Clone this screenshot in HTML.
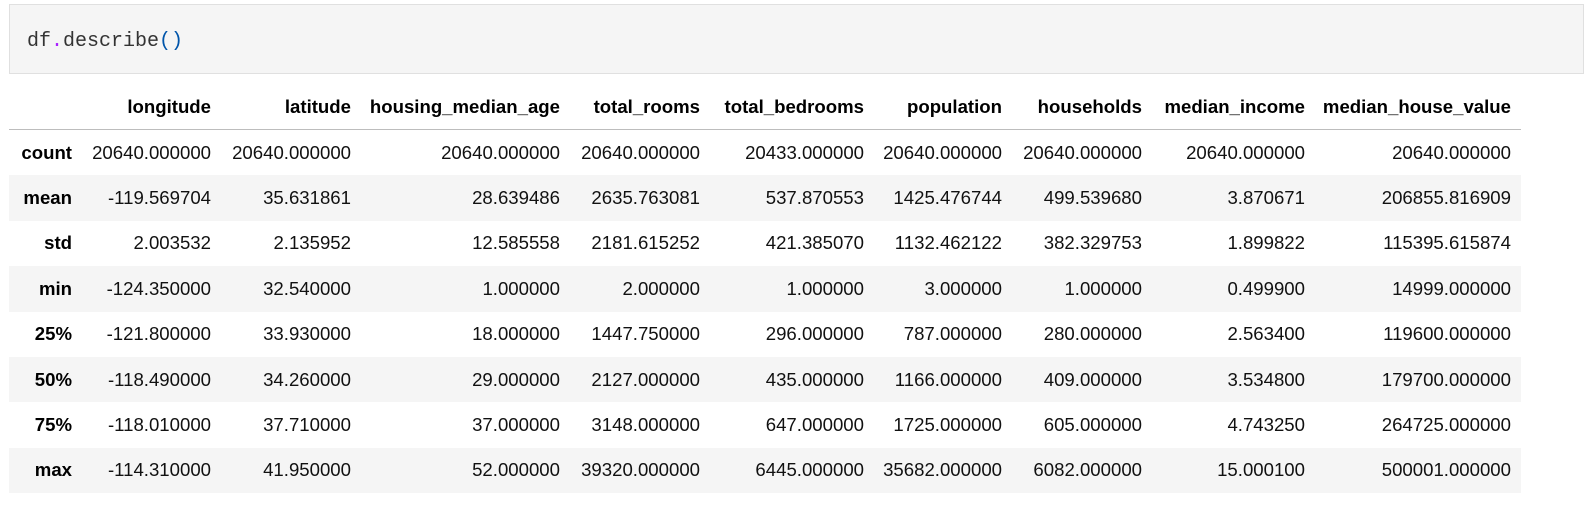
<!DOCTYPE html>
<html><head><meta charset="utf-8"><style>
body{margin:0;background:#fff;width:1585px;height:518px;overflow:hidden;font-family:"Liberation Sans",sans-serif;}
.code{position:absolute;left:9px;top:4px;background:#f5f5f5;border:1px solid #e0e0e0;box-sizing:border-box;width:1575px;height:70px;}
.code span.t{position:absolute;left:17px;top:25px;font-family:"Liberation Mono",monospace;font-size:20px;color:#333;}
table{position:absolute;left:9px;top:85px;width:1512px;border-collapse:collapse;table-layout:fixed;font-size:18.6px;color:#111;}
td,th{text-align:right;padding:0 10px 0 0;height:45.4px;white-space:nowrap;}
thead th{height:44px;border-bottom:1px solid #bdbdbd;color:#000;}
tbody tr:nth-child(even){background:#f5f5f5;}
tbody th{color:#000;}
</style></head><body>
<div class="code"><span class="t">df<span style="color:#aa22ff">.</span>describe<span style="color:#0055aa">()</span></span></div>
<table>
<colgroup><col style="width:73px"><col style="width:139px"><col style="width:140px"><col style="width:209px"><col style="width:140px"><col style="width:164px"><col style="width:138px"><col style="width:140px"><col style="width:163px"><col style="width:206px"></colgroup>
<thead><tr><th></th><th>longitude</th><th>latitude</th><th>housing_median_age</th><th>total_rooms</th><th>total_bedrooms</th><th>population</th><th>households</th><th>median_income</th><th>median_house_value</th></tr></thead>
<tbody>
<tr><th>count</th><td>20640.000000</td><td>20640.000000</td><td>20640.000000</td><td>20640.000000</td><td>20433.000000</td><td>20640.000000</td><td>20640.000000</td><td>20640.000000</td><td>20640.000000</td></tr>
<tr><th>mean</th><td>-119.569704</td><td>35.631861</td><td>28.639486</td><td>2635.763081</td><td>537.870553</td><td>1425.476744</td><td>499.539680</td><td>3.870671</td><td>206855.816909</td></tr>
<tr><th>std</th><td>2.003532</td><td>2.135952</td><td>12.585558</td><td>2181.615252</td><td>421.385070</td><td>1132.462122</td><td>382.329753</td><td>1.899822</td><td>115395.615874</td></tr>
<tr><th>min</th><td>-124.350000</td><td>32.540000</td><td>1.000000</td><td>2.000000</td><td>1.000000</td><td>3.000000</td><td>1.000000</td><td>0.499900</td><td>14999.000000</td></tr>
<tr><th>25%</th><td>-121.800000</td><td>33.930000</td><td>18.000000</td><td>1447.750000</td><td>296.000000</td><td>787.000000</td><td>280.000000</td><td>2.563400</td><td>119600.000000</td></tr>
<tr><th>50%</th><td>-118.490000</td><td>34.260000</td><td>29.000000</td><td>2127.000000</td><td>435.000000</td><td>1166.000000</td><td>409.000000</td><td>3.534800</td><td>179700.000000</td></tr>
<tr><th>75%</th><td>-118.010000</td><td>37.710000</td><td>37.000000</td><td>3148.000000</td><td>647.000000</td><td>1725.000000</td><td>605.000000</td><td>4.743250</td><td>264725.000000</td></tr>
<tr><th>max</th><td>-114.310000</td><td>41.950000</td><td>52.000000</td><td>39320.000000</td><td>6445.000000</td><td>35682.000000</td><td>6082.000000</td><td>15.000100</td><td>500001.000000</td></tr>
</tbody></table>
</body></html>
